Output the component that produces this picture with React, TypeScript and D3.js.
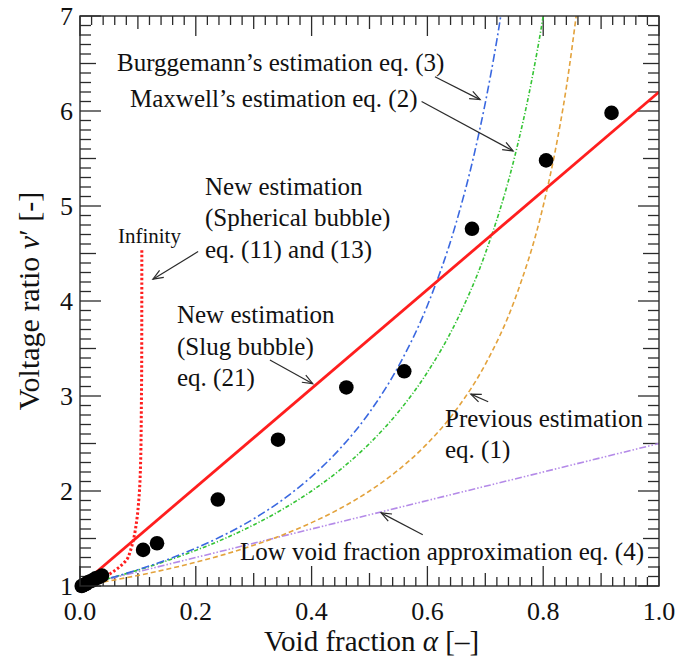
import React from "react";
import * as d3 from "d3";

// ---- data ---------------------------------------------------------------
// measured voltage ratio vs void fraction
const measuredAlpha = [0.003, 0.006, 0.010, 0.014, 0.018, 0.022, 0.027, 0.032, 0.038, 0.109, 0.133, 0.238, 0.342, 0.460, 0.560, 0.677, 0.805, 0.918];
const measuredV = [1.00, 1.01, 1.02, 1.04, 1.05, 1.06, 1.08, 1.09, 1.11, 1.38, 1.45, 1.91, 2.54, 3.09, 3.26, 4.76, 5.48, 5.98];

// Bruggeman's estimation eq. (3)
const bruggAlpha = [0, 0.05, 0.1, 0.15, 0.2, 0.25, 0.3, 0.35, 0.4, 0.45, 0.5, 0.55, 0.6, 0.65, 0.68, 0.7, 0.72, 0.73];
const bruggV = [1, 1.080, 1.171, 1.276, 1.398, 1.540, 1.707, 1.908, 2.152, 2.452, 2.828, 3.313, 3.953, 4.830, 5.524, 6.086, 6.749, 7.128];

// Maxwell's estimation eq. (2)
const maxwellAlpha = [0, 0.05, 0.1, 0.15, 0.2, 0.25, 0.3, 0.35, 0.4, 0.45, 0.5, 0.55, 0.6, 0.65, 0.7, 0.75, 0.78, 0.8, 0.81];
const maxwellV = [1, 1.079, 1.167, 1.265, 1.375, 1.5, 1.643, 1.808, 2.0, 2.227, 2.5, 2.833, 3.25, 3.786, 4.5, 5.5, 6.318, 7.0, 7.395];

// Previous estimation eq. (1)
const prevAlpha = [0, 0.05, 0.1, 0.15, 0.2, 0.25, 0.3, 0.35, 0.4, 0.45, 0.5, 0.55, 0.6, 0.65, 0.7, 0.75, 0.8, 0.82, 0.84, 0.86];
const prevV = [1, 1.053, 1.111, 1.176, 1.25, 1.333, 1.429, 1.538, 1.667, 1.818, 2.0, 2.222, 2.5, 2.857, 3.333, 4.0, 5.0, 5.556, 6.25, 7.143];

// Low void fraction approximation eq. (4)
const lowAlpha = [0, 1];
const lowV = [1, 2.5];

// New estimation, slug bubble eq. (21)
const slugAlpha = [0, 1];
const slugV = [1, 6.2];

// New estimation, spherical bubble eq. (11) and (13)
const sphAlpha = [0, 0.01, 0.03, 0.052, 0.07, 0.081, 0.087, 0.092, 0.098, 0.1015, 0.1048, 0.106, 0.1066, 0.1068];
const sphV = [1, 1.01, 1.05, 1.13, 1.21, 1.28, 1.37, 1.48, 1.69, 1.9, 2.33, 2.9, 3.4, 4.55];

const xTickLabels = ["0.0", "0.2", "0.4", "0.6", "0.8", "1.0"];
const yTickLabels = ["1", "2", "3", "4", "5", "6", "7"];

// ---- layout -------------------------------------------------------------
const W = 680;
const H = 662;
const left = 80, right = 659, top = 16, bottom = 586;
const serif = "'Liberation Serif', 'Times New Roman', serif";

const x = d3.scaleLinear().domain([0, 1]).range([left, right]);
const y = d3.scaleLinear().domain([1, 7]).range([bottom, top]);

const zip = (a: number[], b: number[]) => a.map((v, i) => [v, b[i]] as [number, number]);

const smooth = d3.line<[number, number]>().x(d => x(d[0])).y(d => y(d[1])).curve(d3.curveMonotoneX);
const smoothY = d3.line<[number, number]>().x(d => x(d[0])).y(d => y(d[1])).curve(d3.curveMonotoneY);

const INK = "#2b2b2b";

function Arrow({ from, to }: { from: [number, number]; to: [number, number] }) {
  const x1 = x(from[0]), y1 = y(from[1]), x2 = x(to[0]), y2 = y(to[1]);
  const ang = Math.atan2(y2 - y1, x2 - x1);
  const len = 11, spread = 0.38;
  const a1 = ang + Math.PI - spread, a2 = ang + Math.PI + spread;
  const h = `M${x2 + len * Math.cos(a1)},${y2 + len * Math.sin(a1)}L${x2},${y2}L${x2 + len * Math.cos(a2)},${y2 + len * Math.sin(a2)}`;
  return (
    <g stroke={INK} strokeWidth={1.2} fill="none">
      <line x1={x1} y1={y1} x2={x2} y2={y2} />
      <path d={h} />
    </g>
  );
}

function Label({ at, lines, size = 25, dy = 0 }: { at: [number, number]; lines: string[]; size?: number; dy?: number }) {
  return (
    <text x={x(at[0])} y={y(at[1])} fontFamily={serif} fontSize={size} fill="#111">
      {lines.map((l, i) => (
        <tspan key={i} x={x(at[0])} dy={i === 0 ? 0 : dy}>{l}</tspan>
      ))}
    </text>
  );
}

export default function App() {
  const xTicks = d3.range(0, 51).map(i => ({ v: i * 0.02, k: i % 10 === 0 ? 2 : i % 5 === 0 ? 1 : 0 }));
  const yTicks = d3.range(0, 61).map(i => ({ v: 1 + i * 0.1, k: i % 10 === 0 ? 2 : i % 5 === 0 ? 1 : 0 }));
  const xLen = [9, 13, 20];
  const yLen = [11, 16, 21];

  return (
    <svg width={W} height={H} style={{ position: "absolute", left: 0, top: 0, background: "#fff" }}>
      <defs>
        <clipPath id="plot">
          <rect x={left} y={top} width={right - left} height={bottom - top} />
        </clipPath>
      </defs>

      {/* ticks, inside on all four sides */}
      <g stroke={INK} strokeWidth={1.3}>
        {xTicks.map((t, i) => (
          <g key={"x" + i}>
            <line x1={x(t.v)} x2={x(t.v)} y1={bottom} y2={bottom - xLen[t.k]} />
            <line x1={x(t.v)} x2={x(t.v)} y1={top} y2={top + xLen[t.k]} />
          </g>
        ))}
        {yTicks.map((t, i) => (
          <g key={"y" + i}>
            <line y1={y(t.v)} y2={y(t.v)} x1={left} x2={left + yLen[t.k]} />
            <line y1={y(t.v)} y2={y(t.v)} x1={right} x2={right - yLen[t.k]} />
          </g>
        ))}
      </g>

      {/* tick labels */}
      <g fontFamily={serif} fontSize={26} fill="#111">
        {xTickLabels.map(s => (
          <text key={s} x={x(+s)} y={bottom + 34} textAnchor="middle">{s}</text>
        ))}
        {yTickLabels.map(s => (
          <text key={s} x={left - 7} y={y(+s) + 9} textAnchor="end">{s}</text>
        ))}
      </g>

      {/* axis titles */}
      <text x={(left + right) / 2 + 2} y={651} textAnchor="middle" fontFamily={serif} fontSize={29} fill="#111">
        Void fraction <tspan fontStyle="italic">α</tspan> [–]
      </text>
      <text transform={`translate(39,${(top + bottom) / 2}) rotate(-90)`} textAnchor="middle" fontFamily={serif} fontSize={30} fill="#111">
        Voltage ratio <tspan fontStyle="italic">v</tspan>′ [-]
      </text>

      {/* model curves */}
      <g clipPath="url(#plot)" fill="none">
        <path d={smooth(zip(lowAlpha, lowV))!} stroke="#b48ae8" strokeWidth={1.6} strokeDasharray="7,2,1.5,2,1.5,2" />
        <path d={smooth(zip(prevAlpha, prevV))!} stroke="#e3a23c" strokeWidth={1.6} strokeDasharray="5,3" />
        <path d={smooth(zip(maxwellAlpha, maxwellV))!} stroke="#35c435" strokeWidth={1.6} strokeDasharray="4,2,1.2,2" />
        <path d={smooth(zip(bruggAlpha, bruggV))!} stroke="#3a68e0" strokeWidth={1.6} strokeDasharray="8,3,2,3" />
        <path d={smoothY(zip(sphAlpha, sphV))!} stroke="#ff1e1e" strokeWidth={3} strokeDasharray="2.4,2.2" />
        <path d={smooth(zip(slugAlpha, slugV))!} stroke="#ff1e1e" strokeWidth={2.8} />
      </g>

      {/* measurements */}
      <g fill="#000">
        {measuredAlpha.map((a, i) => (
          <circle key={i} cx={x(a)} cy={y(measuredV[i])} r={7.3} />
        ))}
      </g>

      {/* frame */}
      <rect x={left} y={top} width={right - left} height={bottom - top} fill="none" stroke={INK} strokeWidth={1.4} />

      {/* annotations */}
      <Label at={[0.064, 6.421]} lines={["Burggemann’s estimation eq. (3)"]} />
      <Arrow from={[0.613, 6.36]} to={[0.691, 6.12]} />
      <Label at={[0.0864, 6.042]} lines={["Maxwell’s estimation eq. (2)"]} />
      <Arrow from={[0.59, 6.1]} to={[0.748, 5.58]} />

      <Label at={[0.2159, 5.116]} lines={["New estimation", "(Spherical bubble)", "eq. (11) and (13)"]} dy={31.5} />
      <Label at={[0.0656, 4.611]} lines={["Infinity"]} size={21} />
      <Arrow from={[0.204, 4.52]} to={[0.126, 4.23]} />

      <Label at={[0.1675, 3.768]} lines={["New estimation", "(Slug bubble)", "eq. (21)"]} dy={31.5} />
      <Arrow from={[0.328, 3.38]} to={[0.402, 3.13]} />

      <Label at={[0.6304, 2.674]} lines={["Previous estimation", "eq. (1)"]} dy={31} />
      <Arrow from={[0.705, 2.94]} to={[0.675, 3.02]} />

      <Label at={[0.2763, 1.274]} lines={["Low void fraction approximation eq. (4)"]} />
      <Arrow from={[0.592, 1.54]} to={[0.52, 1.77]} />
    </svg>
  );
}
